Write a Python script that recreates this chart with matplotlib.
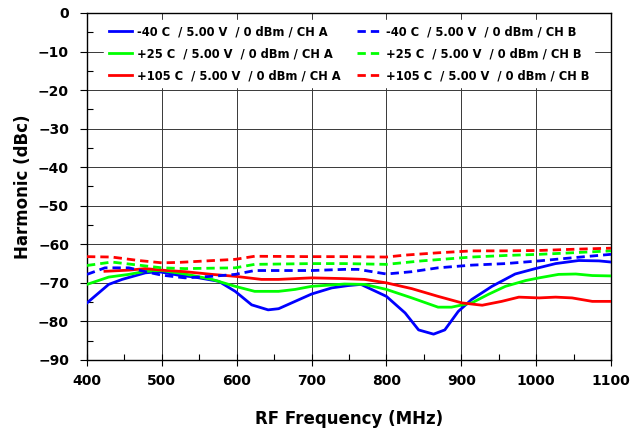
import matplotlib
matplotlib.use("Agg")
import matplotlib.pyplot as plt
from matplotlib.ticker import MultipleLocator

# CH A (solid) curves
freq_m40_a = [400, 429, 447, 478, 496, 522, 544, 576, 598, 620, 642, 656, 678, 700, 727, 749,
              766, 800, 825, 843, 863, 878, 896, 914, 941, 972, 999, 1026, 1057, 1084, 1100]
harm_m40_a = [-75.2, -70.4, -69.1, -67.4, -67.1, -68.0, -68.5, -69.6, -72.2, -75.7, -77.0, -76.7, -74.8, -72.9, -71.3, -70.7,
              -70.4, -73.5, -77.8, -82.2, -83.3, -82.2, -77.4, -74.3, -70.9, -67.7, -66.3, -65.0, -64.2, -64.3, -64.6]

freq_p25_a = [400, 429, 456, 478, 500, 531, 567, 598, 624, 656, 678, 700, 744, 771, 800, 834,
              869, 887, 914, 936, 959, 986, 1004, 1030, 1053, 1075, 1100]
harm_p25_a = [-70.4, -68.5, -67.8, -67.0, -66.8, -67.7, -69.1, -70.9, -72.2, -72.2, -71.7, -70.9, -70.3, -70.4, -71.7, -73.9,
              -76.3, -76.3, -75.2, -73.0, -70.9, -69.4, -68.7, -67.8, -67.7, -68.1, -68.2]

freq_p105_a = [424, 456, 478, 500, 531, 567, 598, 633, 656, 700, 744, 771, 800, 834, 869, 901,
               928, 954, 977, 1004, 1026, 1048, 1075, 1100]
harm_p105_a = [-67.0, -66.7, -66.3, -66.7, -67.1, -67.8, -68.3, -69.1, -69.1, -68.7, -68.9, -69.1, -70.0, -71.5, -73.5, -75.2,
               -75.8, -74.8, -73.7, -73.9, -73.7, -73.9, -74.8, -74.8]

# CH B (dashed) curves
freq_m40_b = [400, 424, 456, 478, 500, 531, 567, 598, 624, 700, 744, 762, 800, 834, 869, 914,
              959, 1004, 1048, 1100]
harm_m40_b = [-67.8, -66.1, -66.1, -67.1, -68.0, -68.7, -68.3, -67.8, -66.8, -66.8, -66.5, -66.5, -67.7, -67.1, -66.1, -65.4,
              -65.0, -64.3, -63.5, -62.6]

freq_p25_b = [400, 433, 469, 500, 531, 598, 624, 700, 744, 800, 847, 914, 959, 1004, 1048, 1100]
harm_p25_b = [-65.5, -64.6, -65.4, -66.1, -66.3, -66.1, -65.2, -65.0, -65.0, -65.2, -64.3, -63.3, -62.9, -62.6, -62.2, -61.7]

freq_p105_b = [400, 433, 469, 500, 522, 598, 624, 700, 744, 800, 825, 869, 914, 959, 1004, 1048, 1100]
harm_p105_b = [-63.2, -63.3, -64.2, -64.8, -64.7, -63.9, -63.1, -63.2, -63.2, -63.3, -62.8, -62.2, -61.7, -61.7, -61.6, -61.3, -61.0]

labels_a = ["-40 C  / 5.00 V  / 0 dBm / CH A",
            "+25 C  / 5.00 V  / 0 dBm / CH A",
            "+105 C  / 5.00 V  / 0 dBm / CH A"]
labels_b = ["-40 C  / 5.00 V  / 0 dBm / CH B",
            "+25 C  / 5.00 V  / 0 dBm / CH B",
            "+105 C  / 5.00 V  / 0 dBm / CH B"]
colors = ["#0000FF", "#00FF00", "#FF0000"]

x_ticks = [400, 500, 600, 700, 800, 900, 1000, 1100]
y_ticks = [0, -10, -20, -30, -40, -50, -60, -70, -80, -90]


def make_chart():

    fig = plt.figure(figsize=(6.33, 4.32), dpi=100)
    ax = fig.add_axes([0.1374, 0.1667, 0.8278, 0.8033])

    series_a = [(freq_m40_a, harm_m40_a), (freq_p25_a, harm_p25_a), (freq_p105_a, harm_p105_a)]
    series_b = [(freq_m40_b, harm_m40_b), (freq_p25_b, harm_p25_b), (freq_p105_b, harm_p105_b)]

    for (xs, ys), c, lab in zip(series_a, colors, labels_a):
        ax.plot(xs, ys, color=c, linewidth=2, label=lab, zorder=3)

    for (xs, ys), c, lab in zip(series_b, colors, labels_b):
        ax.plot(xs, ys, color=c, linewidth=2, dashes=(3, 1.8), label=lab, zorder=3)

    ax.set_xlim(400, 1100)
    ax.set_ylim(-90, 0)
    ax.set_xticks(x_ticks)
    ax.set_yticks(y_ticks)
    ax.xaxis.set_minor_locator(MultipleLocator(50))
    ax.yaxis.set_minor_locator(MultipleLocator(5))

    ax.grid(True, which="major", color="#383838", linewidth=0.7)

    ax.tick_params(axis="x", which="major", direction="inout", length=8, width=0.8, pad=6)
    ax.tick_params(axis="x", which="minor", direction="in", length=4, width=0.8)
    ax.tick_params(axis="y", which="major", direction="out", length=5, width=0.8, pad=8)
    ax.tick_params(axis="y", which="minor", direction="in", length=4, width=0.8)

    for lbl in ax.get_xticklabels() + ax.get_yticklabels():
        lbl.set_fontweight("bold")
        lbl.set_fontsize(10)

    for side in ["left", "bottom", "top", "right"]:
        ax.spines[side].set_color("black")
        ax.spines[side].set_linewidth(1)

    ax.set_xlabel("RF Frequency (MHz)", fontsize=12, fontweight="bold", labelpad=16)
    ax.set_ylabel("Harmonic (dBc)", fontsize=12, fontweight="bold", labelpad=4)

    leg = ax.legend(loc="upper center", bbox_to_anchor=(0.5, 0.995), ncol=2,
                    frameon=True, fancybox=False, framealpha=1,
                    prop={"weight": "bold", "size": 8.3},
                    handlelength=2.0, columnspacing=1.4, labelspacing=0.8,
                    handletextpad=0.5, borderpad=0.4)
    leg.get_frame().set_edgecolor("white")
    leg.get_frame().set_facecolor("white")
    leg.set_zorder(5)

    fig.savefig("out.png", dpi=100)
    plt.close(fig)


if __name__ == "__main__":

    make_chart()
